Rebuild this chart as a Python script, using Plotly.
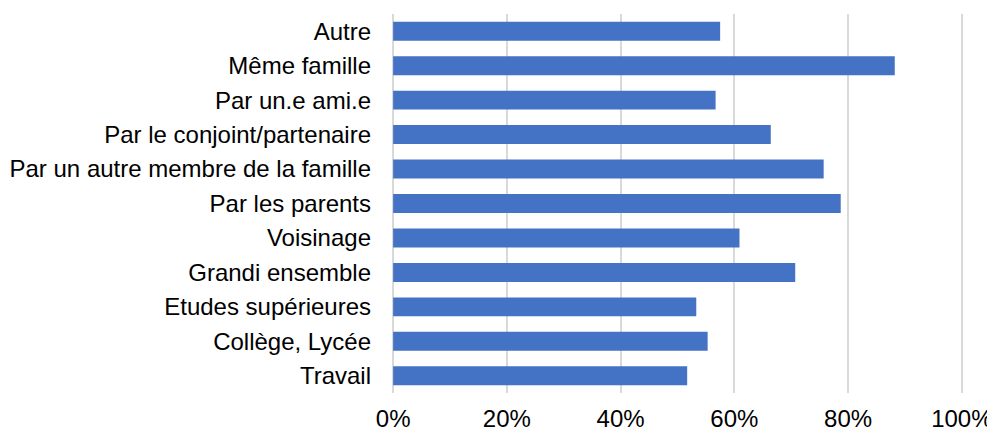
import plotly.graph_objects as go

# Categories (top to bottom as shown) and their shares
categories = ["Autre", "Même famille", "Par un.e ami.e", "Par le conjoint/partenaire",
              "Par un autre membre de la famille", "Par les parents", "Voisinage",
              "Grandi ensemble", "Etudes supérieures", "Collège, Lycée", "Travail"]
values = [0.575, 0.882, 0.567, 0.664, 0.757, 0.787, 0.609, 0.707, 0.533, 0.553, 0.517]
tick_vals = [0, 0.2, 0.4, 0.6, 0.8, 1.0]
tick_text = ["0%", "20%", "40%", "60%", "80%", "100%"]

fig = go.Figure()
fig.add_trace(go.Bar(
    x=values, y=categories, orientation="h",
    marker=dict(color="#4472C4", line=dict(width=0)),
    width=0.55,
))

# page has an 8px body margin, so the figure is a bit smaller than the window
fig.update_layout(
    width=987, height=424,
    margin=dict(l=384, r=32, t=6, b=39),
    paper_bgcolor="white", plot_bgcolor="white",
    font=dict(family="Liberation Sans, Arial", size=24, color="black"),
    showlegend=False,
)
# tiny padding so the 0% and 100% gridlines are drawn too
fig.update_xaxes(range=[-0.002, 1.002], tickvals=tick_vals, ticktext=tick_text,
                 showgrid=True, gridcolor="#d9d9d9", gridwidth=2,
                 zeroline=False, showline=False, ticklabelstandoff=9, automargin=False)
fig.update_yaxes(autorange="reversed", categoryorder="array", categoryarray=categories,
                 showgrid=False, zeroline=False, showline=False, ticklabelstandoff=20,
                 automargin=False)

fig.write_html("out.html")
